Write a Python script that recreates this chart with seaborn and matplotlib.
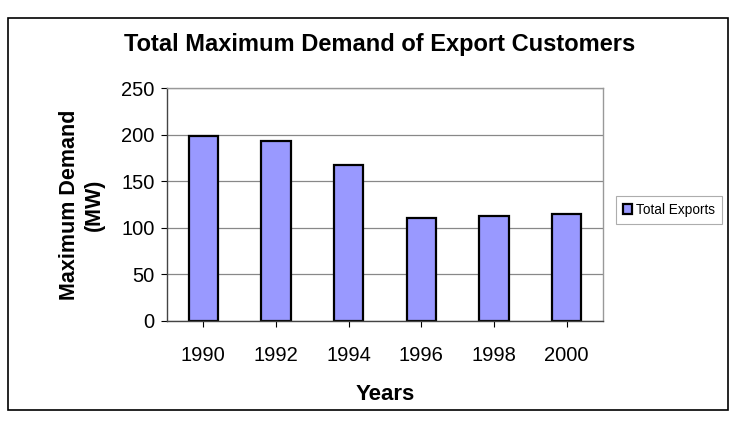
import matplotlib
matplotlib.use("Agg")
import matplotlib.pyplot as plt
import seaborn as sns
import pandas as pd
from matplotlib.patches import Rectangle

years = ["1990", "1992", "1994", "1996", "1998", "2000"]
demand = [198, 193, 167, 111, 113, 115]
series_name = "Total Exports"
title = "Total Maximum Demand of Export Customers"
y_label = "Maximum Demand\n(MW)"
x_label = "Years"
y_ticks = [0, 50, 100, 150, 200, 250]

df = pd.DataFrame({"Year": years, "Demand": demand, "Series": series_name})

sns.set_theme(style="white")
plt.rcParams['font.family'] = ['Liberation Sans', 'DejaVu Sans']
plt.rcParams['text.color'] = 'black'
plt.rcParams['axes.labelcolor'] = 'black'

fig = plt.figure(figsize=(7.33, 4.22), dpi=100)
ax = fig.add_axes([167/733, 1 - 321/422, (603-167)/733, (321-88)/422])

sns.barplot(data=df, x="Year", y="Demand", hue="Series", ax=ax,
            palette=["#9999FF"], edgecolor="black", linewidth=1.6,
            width=0.4, saturation=1, legend=True)

ax.set_ylim(0, 250)
ax.set_yticks(y_ticks)
ax.set_xlim(-0.5, len(years) - 0.5)
ax.yaxis.grid(True, color="#888888", linewidth=0.9)
ax.set_axisbelow(True)
for s in ax.spines.values():
    s.set_color("#999999")
    s.set_linewidth(1.0)
ax.spines["left"].set_color("#444444")
ax.spines["bottom"].set_color("#444444")
ax.tick_params(axis="both", labelsize=14.5, colors="black", length=4, left=True, bottom=True, width=0.8)
ax.tick_params(axis="y", pad=5)
ax.tick_params(axis="x", pad=14)
ax.set_xlabel(x_label, fontsize=16, fontweight="bold", labelpad=14)
ax.set_ylabel(y_label, fontsize=15.5, fontweight="bold", labelpad=12)
fig.text(380/733, 1 - 45/422, title, ha="center", va="center", fontsize=17, fontweight="bold")

leg = ax.legend(loc="center left", bbox_to_anchor=(616/733, 1 - 210/422),
                bbox_transform=fig.transFigure, frameon=True, fontsize=9.8,
                handlelength=0.7, handleheight=0.7, handletextpad=0.3,
                borderpad=0.5, borderaxespad=0, fancybox=False)
leg.get_frame().set_edgecolor("#999999")
leg.get_frame().set_linewidth(0.8)

fig.patches.append(Rectangle((8/733, 1 - 410/422), (728-8)/733, (410-18)/422,
                             transform=fig.transFigure, fill=False,
                             edgecolor="black", linewidth=1.2))

fig.savefig("out.png", dpi=100)
